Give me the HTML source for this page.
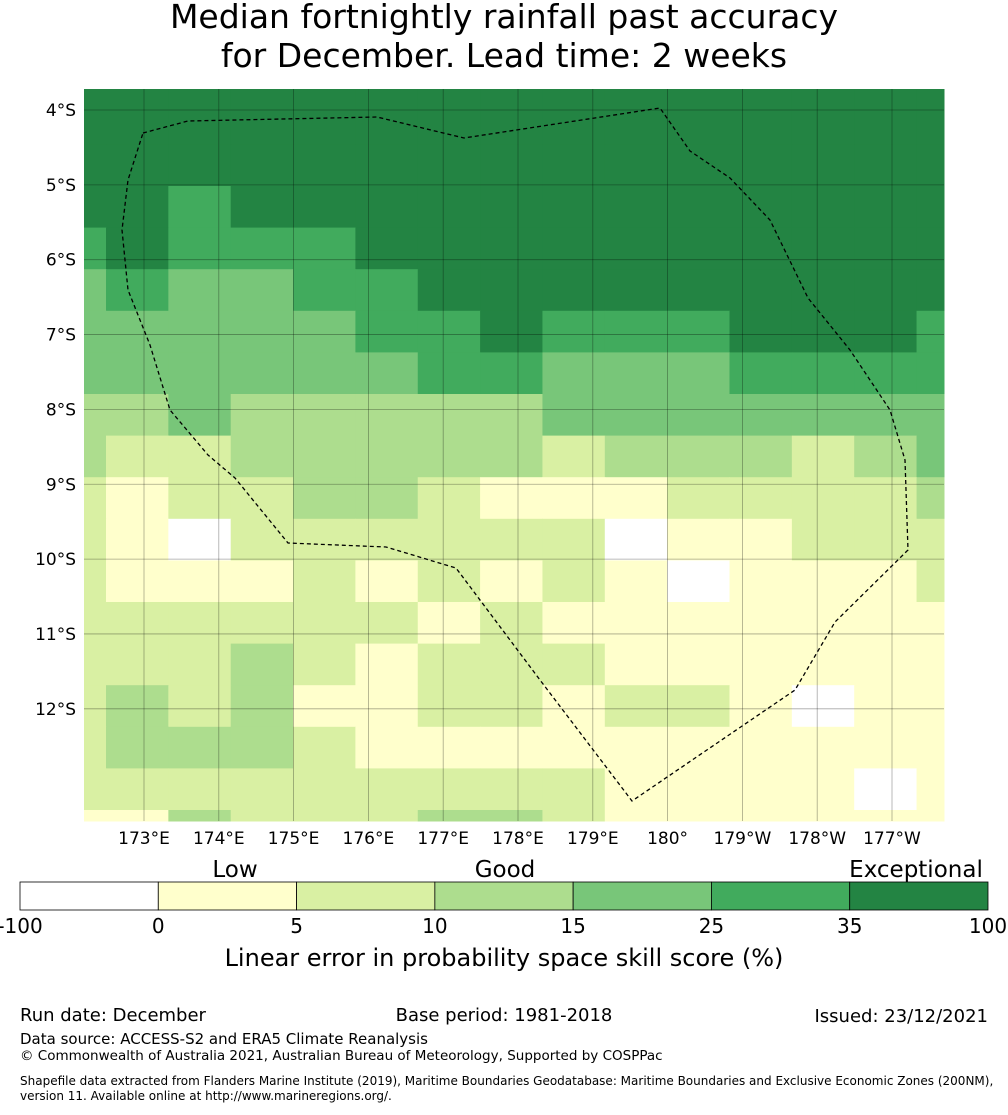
<!DOCTYPE html>
<html><head><meta charset="utf-8"><style>
body{margin:0;background:#fff;font-family:"Liberation Sans","DejaVu Sans",sans-serif;}
svg text{font-family:"DejaVu Sans","Liberation Sans",sans-serif;}
</style></head><body>
<svg id="chart" width="1008" height="1110" xmlns="http://www.w3.org/2000/svg">
<text x="504" y="28" font-size="33" text-anchor="middle">Median fortnightly rainfall past accuracy</text>
<text x="504" y="67" font-size="33" text-anchor="middle">for December. Lead time: 2 weeks</text>
<g id="cells"></g>
<g id="grid"></g>
<path id="eez" fill="none" stroke="#000" stroke-width="1.3" stroke-dasharray="4,3"/>
<g id="labels"></g>
<g id="cbar"></g>
<text x="235" y="877" font-size="23" text-anchor="middle">Low</text>
<text x="505" y="877" font-size="23" text-anchor="middle">Good</text>
<text x="916" y="877" font-size="23" text-anchor="middle">Exceptional</text>
<text x="504" y="966" font-size="24" text-anchor="middle">Linear error in probability space skill score (%)</text>
<text x="20" y="1021" font-size="18">Run date: December</text>
<text x="504" y="1021" font-size="18" text-anchor="middle">Base period: 1981-2018</text>
<text x="988" y="1022" font-size="18" text-anchor="end">Issued: 23/12/2021</text>
<text x="20" y="1044" font-size="15">Data source: ACCESS-S2 and ERA5 Climate Reanalysis</text>
<text x="20" y="1060" font-size="13.5">© Commonwealth of Australia 2021, Australian Bureau of Meteorology, Supported by COSPPac</text>
<text x="20" y="1085" font-size="12">Shapefile data extracted from Flanders Marine Institute (2019), Maritime Boundaries Geodatabase: Maritime Boundaries and Exclusive Economic Zones (200NM),</text>
<text x="20" y="1100" font-size="12">version 11. Available online at http://www.marineregions.org/.</text>
</svg>
<script>
const D=50,M=30,L=20,A=12,Y=7,P=2,W=-5;
const rows=[
[D,D,D,D,D,D,D,D,D,D,D,D,D,D,D],
[D,D,D,D,D,D,D,D,D,D,D,D,D,D,D],
[D,D,M,D,D,D,D,D,D,D,D,D,D,D,D],
[M,D,M,M,M,D,D,D,D,D,D,D,D,D,D],
[L,M,L,L,M,M,D,D,D,D,D,D,D,D,D],
[L,L,L,L,L,M,M,D,M,M,M,D,D,D,M],
[L,L,L,L,L,L,M,M,L,L,L,M,M,M,M],
[A,A,L,A,A,A,A,A,L,L,L,L,L,L,L],
[A,Y,Y,A,A,A,A,A,Y,A,A,A,Y,A,L],
[Y,P,Y,Y,A,A,Y,P,P,P,Y,Y,Y,Y,A],
[Y,P,W,Y,Y,Y,Y,Y,Y,W,P,P,Y,Y,Y],
[Y,P,P,P,Y,P,Y,P,Y,P,W,P,P,P,Y],
[Y,Y,Y,Y,Y,Y,P,Y,P,P,P,P,P,P,P],
[Y,Y,Y,A,Y,P,Y,Y,Y,P,P,P,P,P,P],
[Y,A,Y,A,P,P,Y,Y,P,Y,Y,P,W,P,P],
[Y,A,A,A,Y,P,P,P,P,P,P,P,P,P,P],
[Y,Y,Y,Y,Y,Y,Y,Y,Y,P,P,P,P,W,P],
[P,P,A,Y,Y,Y,A,A,Y,P,P,P,P,P,P]];
const bounds=[-100,0,5,10,15,25,35,100];
const colors=["#ffffff","#ffffcc","#d9f0a3","#addd8e","#78c679","#41ab5d","#238443"];
const lonTicks=["173°E","174°E","175°E","176°E","177°E","178°E","179°E","180°","179°W","178°W","177°W"];
const latTicks=["4°S","5°S","6°S","7°S","8°S","9°S","10°S","11°S","12°S"];
const NS="http://www.w3.org/2000/svg";
const x0=84,x1=944,y0=89,y1=821;
const cw=62.35,ch=41.6,gx=106-cw,gy=186-2*ch;
function colX(i){return Math.max(x0,Math.min(x1,gx+i*cw));}
function rowY(j){return Math.max(y0,Math.min(y1,gy+(j+1)*ch));}
const lonX=i=>144+i*74.8, latY=j=>110+j*74.85;
function colorFor(v){for(let k=0;k<7;k++)if(v<bounds[k+1])return colors[k];return colors[6];}
const cg=document.getElementById('cells');
rows.forEach((r,j)=>r.forEach((v,i)=>{
 const ya=j===0?y0:rowY(j-1), yb=rowY(j);
 const xa=colX(i),xb=colX(i+1);
 const el=document.createElementNS(NS,'rect');
 el.setAttribute('x',xa);el.setAttribute('y',ya);el.setAttribute('width',xb-xa+0.5);el.setAttribute('height',Math.max(0,yb-ya+0.5));
 el.setAttribute('fill',colorFor(v));
 
 
 cg.appendChild(el);
}));
const gg=document.getElementById('grid'),lg=document.getElementById('labels');
lonTicks.forEach((t,i)=>{
 const x=lonX(i);
 const l=document.createElementNS(NS,'line');
 l.setAttribute('x1',x);l.setAttribute('x2',x);l.setAttribute('y1',y0);l.setAttribute('y2',y1);
 l.setAttribute('stroke','rgba(0,0,0,0.35)');l.setAttribute('stroke-width','0.8');
 
 
 gg.appendChild(l);
 const tx=document.createElementNS(NS,'text');
 tx.setAttribute('x',x);tx.setAttribute('y',844);tx.setAttribute('font-size','17');tx.setAttribute('text-anchor','middle');
 tx.textContent=t;
 
 
 lg.appendChild(tx);
});
latTicks.forEach((t,j)=>{
 const y=latY(j);
 const l=document.createElementNS(NS,'line');
 l.setAttribute('x1',x0);l.setAttribute('x2',x1);l.setAttribute('y1',y);l.setAttribute('y2',y);
 l.setAttribute('stroke','rgba(0,0,0,0.35)');l.setAttribute('stroke-width','0.8');
 
 
 gg.appendChild(l);
 const tx=document.createElementNS(NS,'text');
 tx.setAttribute('x',76);tx.setAttribute('y',y+6);tx.setAttribute('font-size','17');tx.setAttribute('text-anchor','end');
 tx.textContent=t;
 
 
 lg.appendChild(tx);
});
const eez=[[143,133],[188,121],[377,117],[464,138],[660,108],[690,151],[730,178],[770,220],[808,298],[850,350],[890,410],[905,460],[908,550],[835,622],[795,690],[632,801],[540,680],[456,568],[386,547],[288,543],[235,478],[208,455],[170,410],[150,345],[128,290],[122,230],[128,180],[143,133]];
document.getElementById('eez').setAttribute('d','M'+eez.map(p=>p.join(',')).join('L'));
const cb=document.getElementById('cbar'),segW=(988-20)/7;
colors.forEach((c,k)=>{
 const r=document.createElementNS(NS,'rect');
 r.setAttribute('x',20+k*segW);r.setAttribute('y',882);r.setAttribute('width',segW);r.setAttribute('height',28);
 r.setAttribute('fill',c);r.setAttribute('stroke','#000');r.setAttribute('stroke-width','0.8');
 
 
 cb.appendChild(r);
});
bounds.forEach((b,k)=>{
 const tx=document.createElementNS(NS,'text');
 tx.setAttribute('x',20+k*segW);tx.setAttribute('y',933);tx.setAttribute('font-size','20');tx.setAttribute('text-anchor','middle');
 tx.textContent=b;
 
 
 cb.appendChild(tx);
});
</script>
</body></html>
